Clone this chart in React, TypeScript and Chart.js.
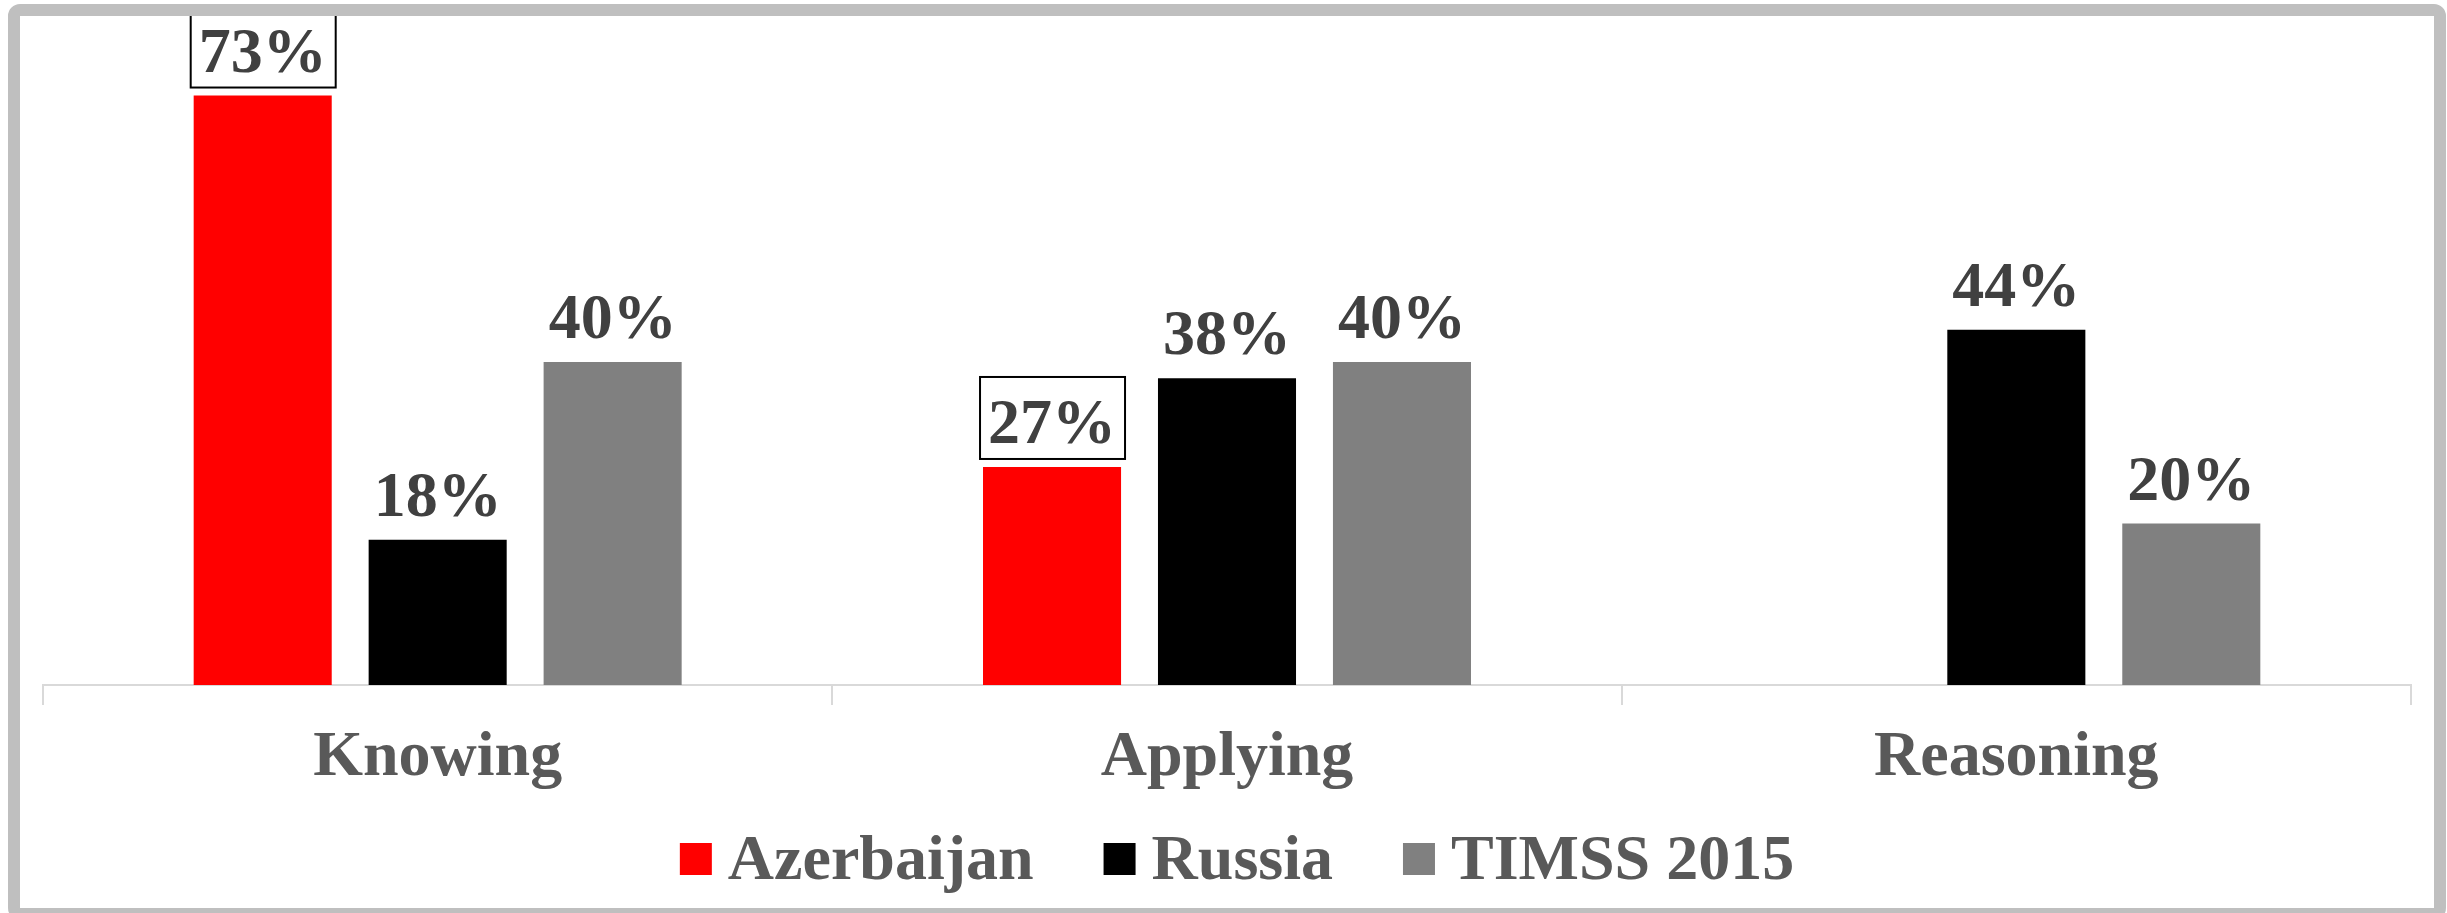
import React, { useEffect, useRef } from 'react';
import { Chart, registerables } from 'chart.js';

Chart.register(...registerables);

const categories = ['Knowing', 'Applying', 'Reasoning'];
const seriesNames = ['Azerbaijan', 'Russia', 'TIMSS 2015'];
const azerbaijan: (number | null)[] = [73, 27, null];
const russia: (number | null)[] = [18, 38, 44];
const timss: (number | null)[] = [40, 40, 20];
const seriesColors = ['#ff0000', '#000000', '#808080'];
const boxedSeries = [true, false, false];

const W = 2447;
const H = 913;
const FONT = "'Liberation Serif', 'Times New Roman', serif";

export default function App() {
  const ref = useRef<HTMLCanvasElement>(null);

  useEffect(() => {
    const canvas = ref.current;
    if (!canvas) return;

    const background = {
      id: 'background',
      beforeDraw(chart: any) {
        const ctx = chart.ctx;
        ctx.save();
        ctx.fillStyle = '#ffffff';
        ctx.fillRect(0, 0, chart.width, chart.height);
        ctx.restore();
      },
    };

    const valueLabels = {
      id: 'valueLabels',
      afterDatasetsDraw(chart: any) {
        const ctx = chart.ctx;
        ctx.save();
        ctx.font = `bold 64px ${FONT}`;
        ctx.textAlign = 'center';
        ctx.textBaseline = 'alphabetic';
        chart.data.datasets.forEach((ds: any, di: number) => {
          const meta = chart.getDatasetMeta(di);
          meta.data.forEach((bar: any, i: number) => {
            const v = ds.data[i];
            if (v === null || v === undefined) return;
            const x = bar.x;
            const baseY = bar.y - 24;
            if (boxedSeries[di]) {
              ctx.fillStyle = '#ffffff';
              ctx.strokeStyle = '#000000';
              ctx.lineWidth = 2;
              ctx.fillRect(x - 72, baseY - 66, 145, 82);
              ctx.strokeRect(x - 72, baseY - 66, 145, 82);
            }
            ctx.fillStyle = '#404040';
            ctx.fillText(`${v}%`, x, baseY);
          });
        });
        ctx.restore();
      },
    };

    const legendAndFrame = {
      id: 'legendAndFrame',
      afterDraw(chart: any) {
        const ctx = chart.ctx;
        ctx.save();
        // custom legend
        ctx.font = `bold 64px ${FONT}`;
        ctx.textBaseline = 'alphabetic';
        ctx.textAlign = 'left';
        const box = 32;
        const gap = 16;
        const itemGap = 70;
        const items = chart.data.datasets.map((ds: any) => ({
          label: ds.label as string,
          color: ds.backgroundColor as string,
          w: ctx.measureText(ds.label).width,
        }));
        const total =
          items.reduce((s: number, it: any) => s + box + gap + it.w, 0) +
          itemGap * (items.length - 1);
        let x = 1237 - total / 2;
        const baseline = 879;
        items.forEach((it: any) => {
          ctx.fillStyle = it.color;
          ctx.fillRect(x, baseline - 36, box, box);
          x += box + gap;
          ctx.fillStyle = '#595959';
          ctx.fillText(it.label, x, baseline);
          x += it.w + itemGap;
        });
        // frame
        ctx.fillStyle = '#bfbfbf';
        ctx.beginPath();
        ctx.roundRect(8, 4, 2438, 916, 12);
        ctx.rect(20, 16, 2414, 892);
        ctx.fill('evenodd');
        ctx.restore();
      },
    };

    const chart = new Chart(canvas, {
      type: 'bar',
      data: {
        labels: categories,
        datasets: [
          { label: seriesNames[0], data: azerbaijan, backgroundColor: seriesColors[0] },
          { label: seriesNames[1], data: russia, backgroundColor: seriesColors[1] },
          { label: seriesNames[2], data: timss, backgroundColor: seriesColors[2] },
        ],
      },
      options: {
        responsive: false,
        animation: false,
        devicePixelRatio: 1,
        events: [],
        layout: { padding: { top: 39, left: 43, right: 36, bottom: 0 } },
        datasets: {
          bar: { categoryPercentage: 0.665, barPercentage: 0.789 },
        },
        plugins: {
          legend: { display: false },
          tooltip: { enabled: false },
          title: { display: false },
        },
        scales: {
          x: {
            grid: {
              display: true,
              drawOnChartArea: false,
              drawTicks: true,
              tickLength: 20,
              color: '#d9d9d9',
              lineWidth: 2,
              offset: true,
            },
            border: { display: true, color: '#d9d9d9', width: 2 },
            ticks: {
              color: '#595959',
              font: { family: FONT, size: 64, weight: 'bold' },
              padding: 15,
              autoSkip: false,
              maxRotation: 0,
            },
            afterFit: (scale: any) => {
              scale.height = 228;
            },
          },
          y: {
            display: false,
            min: 0,
            max: 80,
          },
        },
      },
      plugins: [background, valueLabels, legendAndFrame],
    } as any);

    return () => chart.destroy();
  }, []);

  return (
    <div style={{ position: 'absolute', left: 0, top: 0, width: W, height: H }}>
      <canvas ref={ref} width={W} height={H} style={{ display: 'block' }} />
    </div>
  );
}
